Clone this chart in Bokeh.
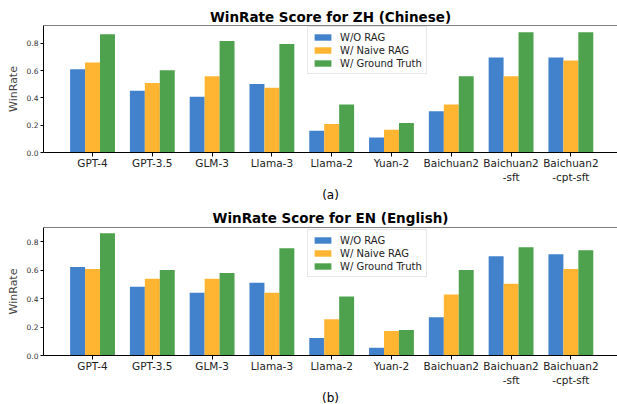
from bokeh.plotting import figure
from bokeh.layouts import column
from bokeh.models import Range1d, FixedTicker, PrintfTickFormatter, Legend, LegendItem, Span, ColumnDataSource, Title
from bokeh.embed import file_html
from bokeh.resources import INLINE

models = ["GPT-4", "GPT-3.5", "GLM-3", "Llama-3", "Llama-2", "Yuan-2", "Baichuan2", "Baichuan2\n-sft", "Baichuan2\n-cpt-sft"]
series = ["W/O RAG", "W/ Naive RAG", "W/ Ground Truth"]

zh_wo = [0.609, 0.452, 0.409, 0.502, 0.159, 0.109, 0.302, 0.695, 0.695]
zh_naive = [0.659, 0.509, 0.559, 0.474, 0.209, 0.166, 0.352, 0.559, 0.674]
zh_gt = [0.866, 0.602, 0.816, 0.795, 0.352, 0.216, 0.559, 0.881, 0.881]

en_wo = [0.624, 0.485, 0.443, 0.513, 0.123, 0.054, 0.269, 0.700, 0.714]
en_naive = [0.610, 0.541, 0.541, 0.443, 0.255, 0.172, 0.429, 0.506, 0.610]
en_gt = [0.861, 0.603, 0.582, 0.756, 0.415, 0.179, 0.603, 0.763, 0.742]

colors = ["#4282CC", "#FFB432", "#4EA24E"]
FONT = "DejaVu Sans"
X0, X1 = -0.82, 8.78


def make_panel(title, sub, vals, ymax, height, top_border, bottom_border, title_standoff):
    p = figure(width=617, height=height, output_backend="svg", toolbar_location=None,
               x_range=Range1d(X0, X1), y_range=Range1d(0, ymax),
               min_border_left=43, min_border_right=0, min_border_top=top_border,
               min_border_bottom=bottom_border)
    p.title.text = title
    p.title.align = "center"
    p.title.text_font = FONT
    p.title.text_font_size = "13.5px"
    p.title.text_font_style = "bold"
    p.title.text_color = "black"
    p.title.standoff = title_standoff
    p.grid.visible = False
    p.outline_line_color = None
    p.add_layout(Span(location=ymax, dimension="width", line_color="black", line_width=1))
    p.background_fill_color = "white"
    p.border_fill_color = "white"

    idx = list(range(len(models)))
    items = []
    for k, (name, v) in enumerate(zip(series, vals)):
        src = ColumnDataSource(dict(x=[i + (k - 1) * 0.25 for i in idx], top=v))
        r = p.vbar(x="x", top="top", width=0.25, source=src, fill_color=colors[k], line_color=None)
        items.append(LegendItem(label=name, renderers=[r]))

    leg = Legend(items=items, location=(264, 78), label_text_font=FONT, label_text_font_size="10px",
                 label_text_color="#222222",
                 glyph_width=21, glyph_height=8, label_height=12, spacing=1, padding=4, margin=0,
                 border_line_color="#d0d0d0", border_line_width=1, background_fill_alpha=0.9,
                 label_standoff=7)
    p.add_layout(leg, "center")

    p.add_layout(Title(text=sub, align="center", text_font=FONT, text_font_size="12px",
                       text_font_style="normal", text_color="black", standoff=0), "below")

    p.xaxis.ticker = FixedTicker(ticks=idx)
    p.xaxis.major_label_overrides = {i: m for i, m in enumerate(models)}
    p.xaxis.major_label_text_font = FONT
    p.xaxis.major_label_text_font_size = "10.5px"
    p.xaxis.major_label_text_color = "#222222"
    p.xaxis.major_label_standoff = 0
    p.xaxis.major_tick_out = 4
    p.xaxis.major_tick_in = 0
    p.xaxis.minor_tick_line_color = None
    p.xaxis.axis_line_color = "black"

    p.yaxis.ticker = FixedTicker(ticks=[0.0, 0.2, 0.4, 0.6, 0.8])
    p.yaxis.formatter = PrintfTickFormatter(format="%.1f")
    p.yaxis.major_label_text_font = FONT
    p.yaxis.major_label_text_font_size = "7.5px"
    p.yaxis.major_label_text_color = "#333333"
    p.yaxis.major_label_standoff = 2
    p.yaxis.major_tick_out = 3
    p.yaxis.major_tick_in = 0
    p.yaxis.minor_tick_line_color = None
    p.yaxis.axis_label = "WinRate"
    p.yaxis.axis_label_text_font = FONT
    p.yaxis.axis_label_text_font_style = "normal"
    p.yaxis.axis_label_text_font_size = "11px"
    p.yaxis.axis_label_standoff = 4
    p.yaxis.axis_line_color = "black"
    return p


p1 = make_panel("WinRate Score for ZH (Chinese)", "(a)", [zh_wo, zh_naive, zh_gt], 0.93, 201, 25, 47, 2)
p2 = make_panel("WinRate Score for EN (English)", "(b)", [en_wo, en_naive, en_gt], 0.902, 203, 26, 45, 3)

layout = column(p1, p2, spacing=0)
open("out.html", "w").write(file_html(layout, INLINE))
